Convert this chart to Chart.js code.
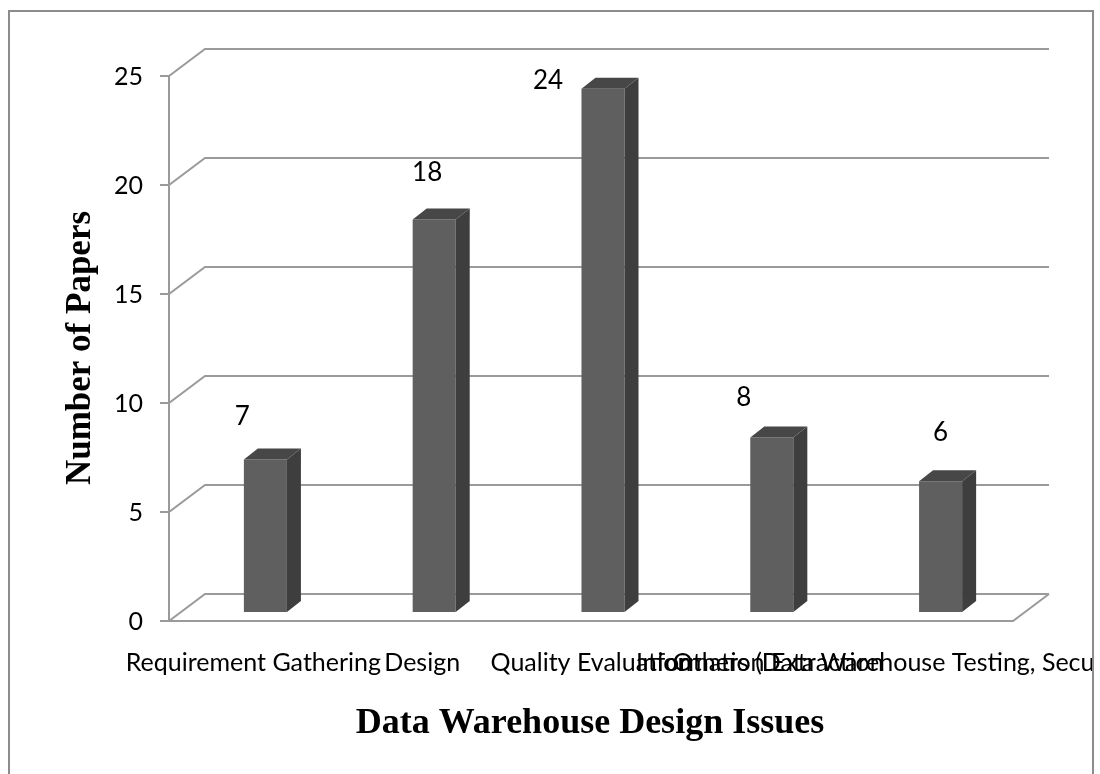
<!DOCTYPE html>
<html>
<head>
<meta charset="utf-8">
<script src="https://cdn.jsdelivr.net/npm/chart.js@4.4.1/dist/chart.umd.min.js"></script>
<style>
  html, body { margin: 0; padding: 0; background: #fff; }
</style>
</head>
<body>
<canvas id="chart" width="1100" height="774"></canvas>
<script>
const categories = ['Requirement Gathering', 'Design', 'Quality Evaluation', 'Information Extraction', 'Others (Data Warehouse Testing, Security etc.)']
const paperCounts = [7, 18, 24, 8, 6]
const yTicks = [0, 5, 10, 15, 20, 25]
const xTitle = 'Data Warehouse Design Issues'
const yTitle = 'Number of Papers'

// excel put the value labels in odd spots, so nudge each one (px from bar top centre)
const labelNudge = [[-23, -43], [-7, -47], [-55, -8], [-28, -40], [0, -49]]

// fake 3d: front wall / back wall offsets from the bar plane, and bar depth
const FRONT = { dx: -12, dy: 9 }
const BACK = { dx: 24, dy: -18 }
const DEPTH = { dx: 14, dy: -11 }
const gridColor = '#9a9a9a'

const fake3d = {
  id: 'fake3d',
  beforeDatasetsDraw(chart) {
    const { ctx, chartArea: a, scales: { y } } = chart
    ctx.save()
    // outer frame
    ctx.strokeStyle = '#8c8c8c'
    ctx.lineWidth = 2
    ctx.strokeRect(9, 11, 1084, 800)

    ctx.strokeStyle = gridColor
    ctx.lineWidth = 2
    const y0 = y.getPixelForValue(0)
    // floor
    ctx.beginPath()
    ctx.moveTo(a.left + FRONT.dx, y0 + FRONT.dy)
    ctx.lineTo(a.right + FRONT.dx, y0 + FRONT.dy)
    ctx.lineTo(a.right + BACK.dx, y0 + BACK.dy)
    ctx.stroke()
    // gridlines on side + back wall, with tick marks
    yTicks.forEach(v => {
      const py = y.getPixelForValue(v)
      ctx.beginPath()
      ctx.moveTo(a.left + FRONT.dx - 9, py + FRONT.dy)
      ctx.lineTo(a.left + FRONT.dx, py + FRONT.dy)
      ctx.lineTo(a.left + BACK.dx, py + BACK.dy)
      ctx.lineTo(a.right + BACK.dx, py + BACK.dy)
      ctx.stroke()
    })
    // value axis
    ctx.beginPath()
    ctx.moveTo(a.left + FRONT.dx, y.getPixelForValue(yTicks[yTicks.length - 1]) + FRONT.dy)
    ctx.lineTo(a.left + FRONT.dx, y0 + FRONT.dy)
    ctx.stroke()
    ctx.restore()
  },
  afterDatasetsDraw(chart) {
    const { ctx } = chart
    const meta = chart.getDatasetMeta(0)
    ctx.save()
    meta.data.forEach(bar => {
      const { x, y, base, width } = bar.getProps(['x', 'y', 'base', 'width'], true)
      const l = x - width / 2
      const r = x + width / 2
      // right side
      ctx.fillStyle = '#3e3e3e'
      ctx.beginPath()
      ctx.moveTo(r, y)
      ctx.lineTo(r + DEPTH.dx, y + DEPTH.dy)
      ctx.lineTo(r + DEPTH.dx, base + DEPTH.dy)
      ctx.lineTo(r, base)
      ctx.closePath()
      ctx.fill()
      // top
      ctx.fillStyle = '#474747'
      ctx.beginPath()
      ctx.moveTo(l, y)
      ctx.lineTo(l + DEPTH.dx, y + DEPTH.dy)
      ctx.lineTo(r + DEPTH.dx, y + DEPTH.dy)
      ctx.lineTo(r, y)
      ctx.closePath()
      ctx.fill()
    })
    ctx.restore()
  },
  afterDraw(chart) {
    const { ctx } = chart
    const meta = chart.getDatasetMeta(0)
    ctx.save()
    ctx.fillStyle = '#000'
    ctx.textAlign = 'center'

    // value labels
    ctx.font = '26px Lato'
    ctx.textBaseline = 'middle'
    meta.data.forEach((bar, i) => {
      ctx.fillText(String(paperCounts[i]), bar.x + labelNudge[i][0], bar.y + labelNudge[i][1])
    })

    // category labels (they overlap and get cut at the frame, like the original)
    ctx.save()
    ctx.beginPath()
    ctx.rect(10, 0, 1082, 774)
    ctx.clip()
    ctx.font = '25px Lato'
    ctx.textBaseline = 'alphabetic'
    meta.data.forEach((bar, i) => {
      ctx.fillText(categories[i], bar.x + FRONT.dx, 671)
    })
    ctx.restore()

    // axis titles
    ctx.font = 'bold 36px "Liberation Serif"'
    ctx.textBaseline = 'alphabetic'
    ctx.fillText(xTitle, 590, 733)

    ctx.font = 'bold 35px "Liberation Serif"'
    ctx.translate(90, 348)
    ctx.rotate(-Math.PI / 2)
    ctx.fillText(yTitle, 0, 0)
    ctx.restore()
  }
}

new Chart(document.getElementById('chart'), {
  type: 'bar',
  data: {
    labels: categories,
    datasets: [{
      data: paperCounts,
      backgroundColor: '#5f5f5f',
      borderWidth: 0,
      barPercentage: 0.255,
      categoryPercentage: 1
    }]
  },
  options: {
    responsive: false,
    animation: false,
    layout: { padding: { left: 0, top: 67, right: 75, bottom: 162 } },
    plugins: { legend: { display: false }, tooltip: { enabled: false } },
    scales: {
      x: { display: false },
      y: {
        min: 0,
        max: 25,
        afterFit(scale) { scale.width = 181 },
        afterBuildTicks(scale) { scale.ticks = yTicks.map(v => ({ value: v })) },
        grid: { display: false, drawTicks: false },
        border: { display: false },
        ticks: {
          color: '#000',
          font: { family: 'Lato', size: 25 },
          padding: 38,
          labelOffset: 10
        }
      }
    }
  },
  plugins: [fake3d]
})
</script>
</body>
</html>
